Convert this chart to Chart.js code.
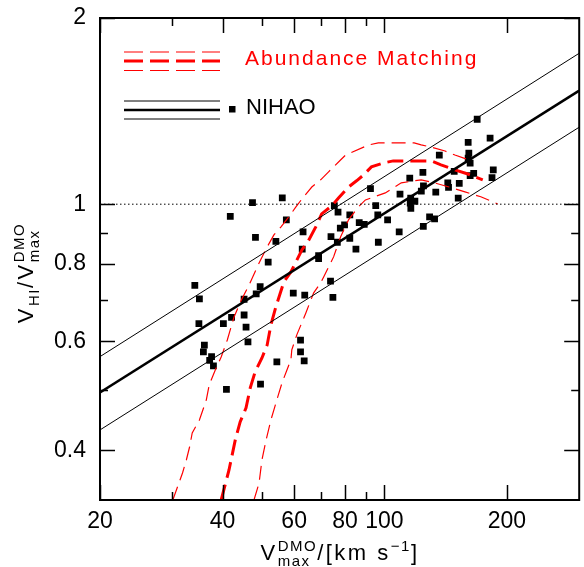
<!DOCTYPE html>
<html>
<head>
<meta charset="utf-8">
<script src="https://cdn.jsdelivr.net/npm/chart.js@4.4.0/dist/chart.umd.min.js"></script>
<style>
html,body{margin:0;padding:0;background:#ffffff;}
#wrap{width:584px;height:567px;position:relative;}
</style>
</head>
<body>
<div id="wrap"><canvas id="c" width="584" height="567"></canvas></div>
<script>
// ---------------- data ----------------
const nihaoVmax = [34.2,35.1,35.0,40.2,42.1,45.2,45.2,45.7,46.2,48.4,
  49.5,36.1,35.9,37.6,37.2,38.0,40.9,49.6,54.4,59.7,
  63.7,73.7,74.7,62.2,62.2,63.5,47.4,41.8,48.2,54.1,
  51.8,56.1,92.4,75.3,76.9,95.2,82.2,96.3,101.8,57.4,
  79.8,77.9,86.7,89.2,63.1,73.9,82.2,76.6,96.6,108.7,
  62.8,85.1,68.9,68.9,169.0,181.8,160.6,136.4,161.2,160.6,
  162.4,124.3,148.4,165.7,162.4,185.1,183.8,115.4,143.1,152.7,
  124.7,143.7,123.2,109.2,133.7,116.0,118.8,115.7,116.1,151.8,
  129.1,132.8,124.6];
const nihaoRatio = [0.739,0.703,0.641,0.641,0.656,0.702,0.662,0.633,0.599,0.716,
  0.736,0.592,0.577,0.567,0.559,0.548,0.502,0.512,0.556,0.718,
  0.713,0.751,0.707,0.603,0.577,0.558,1.006,0.956,0.884,0.871,
  0.806,1.024,1.060,0.995,0.971,0.995,0.961,0.961,0.943,0.943,
  0.926,0.915,0.934,0.928,0.902,0.886,0.881,0.868,0.868,0.902,
  0.846,0.846,0.826,0.817,1.372,1.279,1.259,1.200,1.209,1.187,
  1.165,1.126,1.130,1.122,1.112,1.136,1.104,1.102,1.083,1.081,
  1.071,1.065,1.050,1.038,1.046,1.023,1.011,1.004,0.985,1.023,
  0.954,0.947,0.921];

const fitVmax    = [20, 301];
const fitCentral = [0.496, 1.526];
const fitUpper   = [0.567, 1.754];
const fitLower   = [0.4316, 1.332];

const unityVmax  = [20, 301];
const unityRatio = [1, 1];

const amCentralVmax  = [39.7,41.5,43.0,44.2,45.7,46.8,48.1,50.0,51.5,52.6,54.1,56.6,58.9,60.6,62.7,65.2,67.8,70.1,74.2,77.2,81.6,85.4,88.3,92.9,99.4,105.1,130.2,137.7,149.0,160.3,174.4];
const amCentralRatio = [0.3325,0.3718,0.4159,0.4446,0.4685,0.5047,0.5357,0.5642,0.5922,0.6380,0.6823,0.7487,0.7771,0.8067,0.8435,0.8757,0.9189,0.9645,0.9937,1.024,1.066,1.091,1.111,1.149,1.166,1.175,1.175,1.158,1.136,1.119,1.095];

const amUpperVmax  = [30.2,31.9,32.6,33.2,33.7,35.1,36.5,37.1,38.4,39.7,41.1,42.7,44.5,46.5,49.2,51.5,53.5,55.7,58.2,60.6,63.0,66.3,69.7,72.9,78.0,80.3,91.4,96.6,118.3,123.1,130.9,140.9,149.0,158.6];
const amUpperRatio = [0.3325,0.3677,0.3859,0.4050,0.4268,0.4479,0.4827,0.5103,0.5396,0.5663,0.6033,0.6573,0.7003,0.7405,0.8036,0.8530,0.8921,0.9189,0.9538,0.9900,1.024,1.066,1.095,1.128,1.179,1.201,1.247,1.256,1.256,1.247,1.236,1.219,1.201,1.184];

const amLowerVmax  = [47.8,49.2,50.0,51.2,52.6,54.4,56.0,57.6,58.9,59.2,60.9,64.1,67.0,69.7,70.9,75.0,78.0,81.6,86.3,89.8,100.5,110.0,123.1,132.4,144.1,157.7,172.5,189.8];
const amLowerRatio = [0.3325,0.3543,0.3859,0.4159,0.4479,0.4827,0.5140,0.5396,0.5600,0.5813,0.6148,0.6672,0.7189,0.7459,0.7627,0.8219,0.8853,0.9432,0.9900,1.016,1.043,1.083,1.095,1.083,1.066,1.047,1.028,1.001];

const xTickValues = [20,30,40,50,60,70,80,90,100,200];
const xTickLabels = ['20','','40','','60','','80','','100','200'];
const yTickValues = [0.4,0.5,0.6,0.7,0.8,0.9,1,2];
const yTickLabels = ['0.4','','0.6','','0.8','','1','2'];

const legendLabels = ['Abundance Matching','NIHAO'];

// ---------------- chart ----------------
const RED = '#ff0000';
const FONT = "'Liberation Sans', Arial, sans-serif";
const toXY = (xs, ys) => xs.map((x, i) => ({x: x, y: ys[i]}));
const labelFor = (vals, labels, v) => {
  for (let i = 0; i < vals.length; i++) if (Math.abs(vals[i] - v) < 1e-9 * Math.max(1, v)) return labels[i];
  return '';
};

const lineDs = (label, xs, ys, color, width, dash) => ({
  label: label, data: toXY(xs, ys), showLine: true, borderColor: color,
  borderWidth: width, borderDash: dash || [], pointRadius: 0, fill: false, tension: 0
});

const frameTicks = {
  id: 'frameTicks',
  afterDatasetsDraw(chart) {
    const ctx = chart.ctx, a = chart.chartArea, xs = chart.scales.x, ys = chart.scales.y;
    ctx.save();
    ctx.strokeStyle = '#000';
    ctx.lineWidth = 1.5;
    xTickValues.forEach((v, i) => {
      const p = Math.round(xs.getPixelForValue(v)) + 0.5;
      const len = xTickLabels[i] ? 15 : 8;
      ctx.beginPath();
      ctx.moveTo(p, a.bottom); ctx.lineTo(p, a.bottom - len);
      ctx.moveTo(p, a.top); ctx.lineTo(p, a.top + len);
      ctx.stroke();
    });
    yTickValues.forEach((v, i) => {
      const p = Math.round(ys.getPixelForValue(v)) + 0.5;
      const len = yTickLabels[i] ? 15 : 8;
      ctx.beginPath();
      ctx.moveTo(a.left, p); ctx.lineTo(a.left + len, p);
      ctx.moveTo(a.right, p); ctx.lineTo(a.right - len, p);
      ctx.stroke();
    });
    ctx.lineWidth = 2;
    ctx.strokeRect(a.left, a.top, a.right - a.left, a.bottom - a.top);
    ctx.restore();
  }
};

const hasLS = (() => { const c = document.createElement('canvas').getContext('2d'); return 'letterSpacing' in c; })();

function rich(ctx, items, spacing) {
  let w = 0;
  const parts = [];
  const setF = (s, sp) => { ctx.font = s + 'px ' + FONT; if (hasLS) ctx.letterSpacing = sp + 'px'; };
  items.forEach(it => {
    if (it.sup !== undefined) {
      setF(it.s, spacing * 0.6);
      const w1 = ctx.measureText(it.sup).width, w2 = ctx.measureText(it.sub).width;
      parts.push({x: w, t: it.sup, s: it.s, dy: it.supDy, sp: spacing * 0.6});
      parts.push({x: w, t: it.sub, s: it.s, dy: it.subDy, sp: spacing * 0.6});
      w += Math.max(w1, w2);
    } else {
      const sp = it.s < 20 ? spacing * 0.6 : spacing;
      setF(it.s, sp);
      parts.push({x: w, t: it.t, s: it.s, dy: it.dy || 0, sp: sp});
      w += ctx.measureText(it.t).width;
    }
  });
  return {width: w, draw(x0, y0) {
    parts.forEach(p => { setF(p.s, p.sp); ctx.fillText(p.t, x0 + p.x, y0 + p.dy); });
    if (hasLS) ctx.letterSpacing = '0px';
  }};
}

const decor = {
  id: 'decor',
  afterDraw(chart) {
    const ctx = chart.ctx;
    ctx.save();
    ctx.fillStyle = '#000';
    ctx.textBaseline = 'alphabetic';
    ctx.textAlign = 'left';
    // x-axis title
    const xt = rich(ctx, [
      {t: 'V', s: 22},
      {sup: 'DMO', sub: 'max', s: 15, supDy: -9, subDy: 6},
      {t: '/[km s', s: 22},
      {t: '\u22121', s: 15, dy: -9},
      {t: ']', s: 22}
    ], 2.5);
    xt.draw(340 - xt.width / 2, 560);
    // y-axis title
    const yt = rich(ctx, [
      {t: 'V', s: 22},
      {t: 'HI', s: 15, dy: 6},
      {t: '/', s: 22},
      {t: 'V', s: 22},
      {sup: 'DMO', sub: 'max', s: 15, supDy: -9, subDy: 6}
    ], 2.5);
    ctx.translate(33, 273);
    ctx.rotate(-Math.PI / 2);
    yt.draw(-yt.width / 2, 0);
    ctx.restore();

    // legend
    ctx.save();
    ctx.lineCap = 'butt';
    ctx.strokeStyle = RED;
    [[52, 1.2], [61, 3], [70.5, 1.2]].forEach(([y, w]) => {
      ctx.lineWidth = w; ctx.setLineDash([19, 7]);
      ctx.beginPath(); ctx.moveTo(124, y); ctx.lineTo(220, y); ctx.stroke();
    });
    ctx.setLineDash([]);
    ctx.strokeStyle = '#000';
    [[101, 1], [110, 2.5], [119, 1]].forEach(([y, w]) => {
      ctx.lineWidth = w;
      ctx.beginPath(); ctx.moveTo(124, y); ctx.lineTo(220, y); ctx.stroke();
    });
    ctx.fillStyle = '#000';
    ctx.fillRect(229, 106, 6.5, 6.5);
    ctx.textBaseline = 'middle';
    ctx.fillStyle = RED;
    ctx.font = '21px ' + FONT;
    if (hasLS) ctx.letterSpacing = '2px';
    ctx.fillText(legendLabels[0], 245, 59.5);
    if (hasLS) ctx.letterSpacing = '0px';
    ctx.fillStyle = '#000';
    ctx.font = '22px ' + FONT;
    ctx.fillText(legendLabels[1], 246, 107.5);
    ctx.restore();
  }
};

new Chart(document.getElementById('c'), {
  type: 'scatter',
  data: {
    datasets: [
      lineDs('unity', unityVmax, unityRatio, '#000', 1, [1.5, 2.5]),
      lineDs('NIHAO fit', fitVmax, fitCentral, '#000', 2.5),
      lineDs('NIHAO fit +', fitVmax, fitUpper, '#000', 1),
      lineDs('NIHAO fit -', fitVmax, fitLower, '#000', 1),
      lineDs('Abundance Matching', amCentralVmax, amCentralRatio, RED, 3, [16, 7]),
      lineDs('Abundance Matching +', amUpperVmax, amUpperRatio, RED, 1.2, [14, 7]),
      lineDs('Abundance Matching -', amLowerVmax, amLowerRatio, RED, 1.2, [14, 7]),
      {
        label: 'NIHAO', data: toXY(nihaoVmax, nihaoRatio), showLine: false,
        pointStyle: 'rect', pointRadius: 4.8, pointHoverRadius: 4.8,
        backgroundColor: '#000', borderColor: '#000', pointBorderWidth: 0, borderWidth: 0
      }
    ]
  },
  options: {
    responsive: false, animation: false, devicePixelRatio: 1,
    layout: {padding: {top: 18, right: 2, left: 0, bottom: 0}},
    plugins: {legend: {display: false}, tooltip: {enabled: false}},
    scales: {
      x: {
        type: 'logarithmic', min: 20, max: 301, bounds: 'data',
        afterBuildTicks: s => { s.ticks = xTickValues.map(v => ({value: v})); },
        afterFit: s => { s.height = 67; s.paddingLeft = 0; s.paddingRight = 0; },
        grid: {display: false, drawTicks: false},
        border: {display: false},
        ticks: {
          autoSkip: false, maxRotation: 0, minRotation: 0, padding: 8, color: '#000',
          font: {family: FONT, size: 23},
          callback: v => labelFor(xTickValues, xTickLabels, v)
        }
      },
      y: {
        type: 'logarithmic', min: 0.3325, max: 2, bounds: 'data',
        afterBuildTicks: s => { s.ticks = yTickValues.map(v => ({value: v})); },
        afterFit: s => { s.width = 100; s.paddingTop = 0; s.paddingBottom = 0; },
        grid: {display: false, drawTicks: false},
        border: {display: false},
        ticks: {
          autoSkip: false, padding: 14, color: '#000',
          font: {family: FONT, size: 23},
          callback: v => labelFor(yTickValues, yTickLabels, v)
        }
      }
    }
  },
  plugins: [frameTicks, decor]
});
</script>
</body>
</html>
